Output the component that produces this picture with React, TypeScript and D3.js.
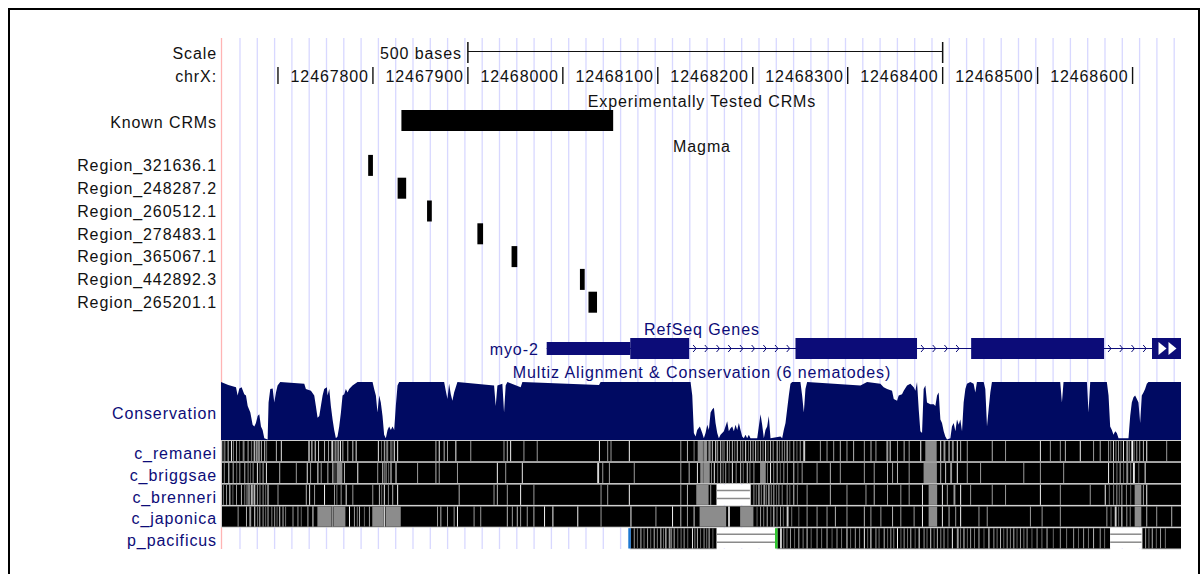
import React from 'react';
import * as d3 from 'd3';

// ---------- data ----------
const viewStart = 12467640;
const viewEnd = 12468651;
const tickPositions = [12467700, 12467800, 12467900, 12468000, 12468100, 12468200, 12468300, 12468400, 12468500, 12468600];
const tickLabels = ['', '12467800', '12467900', '12468000', '12468100', '12468200', '12468300', '12468400', '12468500', '12468600'];
const scaleBar = [12467900, 12468400];
const scaleLabel = '500 bases';

const crmTrackTitle = 'Experimentally Tested CRMs';
const knownCRM = [12467830, 12468053];

const magmaTitle = 'Magma';
const regionNames = ['Region_321636.1', 'Region_248287.2', 'Region_260512.1', 'Region_278483.1', 'Region_365067.1', 'Region_442892.3', 'Region_265201.1'];
const regionStarts = [12467795, 12467826, 12467857, 12467910, 12467946, 12468018, 12468027];
const regionEnds = [12467800, 12467835, 12467862, 12467916, 12467952, 12468023, 12468036];

const geneTrackTitle = 'RefSeq Genes';
const geneName = 'myo-2';
const txStart = 12467983;
const cdsStart = 12468071;
const exonStarts = [12467983, 12468245, 12468430];
const exonEnds = [12468133, 12468373, 12468570];

const consTitle = 'Multiz Alignment & Conservation (6 nematodes)';
// [offset from viewStart (bases), conservation score 0..1]
const conservation: [number, number][] = [
  [0, 0.99], [7.7, 0.94], [15.8, 0.9], [17.5, 0.76], [19.3, 0.88], [21.7, 0.9], [24.5, 0.78], [26.3, 0.76], [28.1, 0.58], [30.9, 0.47],
  [33.3, 0.26], [35.1, 0.23], [36.8, 0.29], [38.6, 0.41], [40.3, 0.44], [42.1, 0.23], [43.8, 0.17], [45.6, 0.03], [49.1, 0.01], [50.1, 0.64],
  [51.9, 0.87], [54.4, 0.88], [56.1, 0.64], [57.9, 0.81], [59.6, 0.93], [62.4, 0.99], [87.7, 0.96], [89.4, 0.87], [94.7, 0.84], [98.2, 0.76],
  [99.9, 0.58], [101.7, 0.38], [103.5, 0.41], [105.2, 0.58], [107, 0.76], [108.7, 0.87], [111.5, 0.9], [112.2, 0.76], [114, 0.87], [115.7, 0.58],
  [117.5, 0.35], [119.2, 0.17], [121, 0.03], [122.7, 0.06], [124.5, 0.23], [126.3, 0.47], [128, 0.76], [129.8, 0.78], [131.5, 0.87], [133.3, 0.81],
  [135, 0.87], [138.5, 0.93], [143.8, 0.99], [159.6, 0.99], [161.3, 0.87], [163.1, 0.76], [164.8, 0.47], [166.6, 0.76], [168.3, 0.64], [170.1, 0.41],
  [171.8, 0.09], [173.6, 0.03], [175.4, 0.17], [177.1, 0.23], [178.9, 0.17], [180.6, 0.23], [182.4, 0.17], [184.1, 0.58], [185.9, 0.93], [187.6, 0.99],
  [235, 0.99], [236.7, 0.84], [238.5, 0.7], [240.2, 0.96], [242, 0.78], [243.7, 0.67], [245.5, 0.81], [249, 0.99], [287.6, 0.93], [289.3, 0.58],
  [291.1, 0.93], [296.3, 0.96], [298.1, 0.47], [299.8, 0.93], [301.6, 0.99], [315.6, 0.9], [317.4, 0.99], [398.1, 0.94], [399.8, 0.99],
  [494.5, 0.99], [496.3, 0.76], [498, 0.12], [499.8, 0.06], [501.5, 0.17], [504.3, 0.23], [506.8, 0.12], [508.5, 0.03], [510.3, 0.12], [512.1, 0.26],
  [513.8, 0.17], [515.6, 0.47], [517.3, 0.52], [519.1, 0.55], [520.8, 0.29], [522.6, 0.12], [524.3, 0.03], [526.1, 0.09], [529.6, 0.15], [531.3, 0.23],
  [533.1, 0.32], [534.8, 0.15], [536.6, 0.2], [538.4, 0.23], [540.1, 0.15], [541.9, 0.26], [543.6, 0.17], [545.4, 0.29], [547.1, 0.17], [548.9, 0.06],
  [550.6, 0.03], [552.4, 0.09], [554.1, 0.03], [555.9, 0.09], [557.6, 0.03], [564.7, 0.03], [566.4, 0.23], [568.2, 0.44], [569.9, 0.26], [571.7, 0.03],
  [573.4, 0.17], [575.2, 0.23], [576.9, 0.41], [578.7, 0.03], [589.2, 0.06], [591, 0.03], [592.7, 0.17], [594.5, 0.29], [596.2, 0.52], [598, 0.76],
  [599.7, 0.96], [601.5, 0.99], [610.2, 0.99], [612, 0.76], [613.8, 0.47], [615.5, 0.87], [617.3, 0.99], [673.4, 0.93], [676.9, 0.96], [680.4, 0.99],
  [694.4, 0.96], [697.9, 0.9], [701.5, 0.87], [706.7, 0.84], [708.5, 0.7], [712, 0.67], [713.7, 0.76], [717.2, 0.78], [719, 0.84], [722.5, 0.93],
  [726, 0.96], [729.5, 0.9], [731.3, 0.84], [733, 0.99], [734.8, 0.52], [736.5, 0.15], [738.3, 0.12], [740, 0.87], [741.8, 0.93], [743.5, 0.64],
  [747, 0.61], [750.6, 0.61], [752.3, 0.58], [754.1, 0.76], [755.8, 0.81], [757.6, 0.35], [759.3, 0.29], [761.1, 0.15], [762.8, 0.06], [764.6, 0.01],
  [768.1, 0.03], [769.8, 0.23], [771.6, 0.29], [773.4, 0.15], [775.1, 0.35], [776.9, 0.26], [778.6, 0.35], [780.4, 0.15], [782.1, 0.64], [783.9, 0.87],
  [785.6, 0.96], [789.1, 0.99], [792.6, 0.96], [794.4, 0.81], [796.1, 0.99], [803.2, 0.99], [804.9, 0.87], [806.7, 0.23], [808.4, 0.52], [810.2, 0.81],
  [811.9, 0.99], [883.8, 0.99], [885.6, 0.64], [887.3, 0.99], [911.9, 0.99], [913.6, 0.47], [915.4, 0.99], [932.9, 0.99], [934.7, 0.76], [936.4, 0.23],
  [938.2, 0.17], [939.9, 0.09], [941.7, 0.15], [943.4, 0.12], [945.2, 0.03], [955.7, 0.03], [957.5, 0.41], [959.2, 0.64], [961, 0.73], [962.7, 0.76],
  [964.5, 0.7], [966.2, 0.64], [968, 0.29], [969.7, 0.76], [971.5, 0.81], [973.2, 0.87], [975, 0.96], [976.7, 0.99], [1011, 0.99],
];

const consLabel = 'Conservation';
const species = ['c_remanei', 'c_briggsae', 'c_brenneri', 'c_japonica', 'p_pacificus'];
// aligned blocks and double-line gaps, as [startOffset, endOffset]
const alignBlocks: [number, number][][] = [
  [[0, 1011]], [[0, 1011]], [[0, 522], [557, 1011]], [[0, 1011]], [[430.5, 522], [585, 936.4], [969.4, 1011]],
];
const alignGaps: [number, number][][] = [[], [], [[522, 557]], [], [[522, 585], [936.4, 969.4]]];
// lighter columns: [offset, width (bases), shade 0=black..1=white]
const remaneiStripes: [number, number, number][] = [
  [3.5, 1, 0.6], [7, 1, 0.8], [10.5, 1, 0.9], [15.8, 1, 0.6], [22.8, 2, 0.5], [28, 1, 0.7], [35, 1, 0.9], [36.8, 1, 0.6], [38.5, 1, 0.9], [42, 1, 0.7],
  [45.5, 1, 0.8], [57.8, 1, 0.7], [63, 1, 0.9], [91.7, 2, 0.6], [95.2, 1, 0.95], [98.7, 1, 0.9], [102.2, 1, 0.8], [108.5, 1, 0.7], [112.7, 1, 0.6],
  [116.2, 2, 0.8], [122.5, 2, 0.55], [125.3, 1, 0.9], [127.8, 1, 0.7], [133, 1, 0.7], [138.3, 1, 0.8], [141.8, 1, 0.9], [165.2, 1, 0.9], [171.5, 1, 0.7],
  [175, 1, 0.6], [178.5, 1, 0.7], [182, 1, 0.9], [185.5, 1, 0.9], [225.8, 1, 0.7], [229.3, 1, 0.95], [234.5, 1, 0.7], [238, 1, 0.6], [246.8, 1, 0.95],
  [262.5, 1, 0.6], [297.5, 1, 0.6], [301, 1, 0.7], [304.5, 1, 0.95], [318.5, 1, 0.6], [332.5, 1, 0.6], [398, 1, 0.95], [406.7, 1, 0.6], [410.2, 1, 0.6],
  [429.5, 1, 0.95], [483.7, 1, 0.6], [490.7, 1, 0.7], [497.7, 1, 0.5], [502, 10, 0.55], [513.5, 1, 0.9], [517, 1, 0.7], [520.5, 1, 0.95], [525.7, 1, 0.8],
  [529.2, 1, 0.6], [532.7, 1, 0.9], [538, 1, 0.7], [543.2, 1, 0.8], [546.7, 1, 0.6], [552, 1, 0.9], [557.2, 1, 0.7], [562.5, 1, 0.8], [567.7, 1, 0.6],
  [573, 1, 0.9], [578.2, 1, 0.7], [585.2, 1, 0.8], [590.5, 1, 0.6], [595.7, 1, 0.9], [602.7, 1, 0.7], [613.2, 2, 0.8], [630.7, 1, 0.6], [637.7, 1, 0.6],
  [644.7, 1, 0.6], [651.7, 1, 0.7], [658.7, 1, 0.6], [665.7, 1, 0.7], [677, 1, 0.6], [684, 1, 0.7], [689.2, 1, 0.6], [700.7, 2, 0.6], [704.2, 1, 0.9],
  [711.9, 1, 0.6], [718.9, 1, 0.7], [724.2, 1, 0.6], [736.4, 1, 0.95], [741.7, 12, 0.55], [757.4, 1, 0.9], [760.9, 2, 0.6], [766.2, 1, 0.9], [769.7, 2, 0.55],
  [774.9, 1, 0.9], [778.4, 1, 0.7], [785.4, 1, 0.6], [811.7, 1, 0.7], [825.7, 1, 0.6], [862.4, 1, 0.9], [872.9, 1, 0.6], [883.4, 1, 0.6], [888.7, 1, 0.7],
  [904.4, 1, 0.95], [918.4, 1, 0.6], [925.4, 1, 0.7], [934.2, 1, 0.6], [939.4, 1, 0.8], [944.7, 1, 0.6], [949.9, 1, 0.9], [953.4, 2, 0.6], [958.7, 2, 0.95],
  [963.9, 1, 0.6], [970.9, 1, 0.7], [974.4, 1, 0.95], [995.4, 1, 0.6],
  // dense low-conservation columns
  [1.5, 1, 0.4], [12.5, 1, 0.5], [19, 1, 0.35], [31.5, 1, 0.45], [33.5, 1, 0.3], [40, 1, 0.5], [47.5, 1, 0.4], [119.5, 1, 0.45], [120.5, 1, 0.7],
  [168.5, 1, 0.4], [173.5, 1, 0.5], [180.5, 1, 0.35], [507.5, 1, 0.35], [510, 1, 0.6], [515.2, 1, 0.45], [522.5, 1, 0.6], [527.5, 1, 0.35], [535, 1, 0.5],
  [540.5, 1, 0.4], [549, 1, 0.5], [555, 1, 0.35], [559.8, 1, 0.6], [565, 1, 0.4], [570.3, 1, 0.5], [575.6, 1, 0.35], [581, 1, 0.6], [587.7, 1, 0.4],
  [593, 1, 0.5], [598.5, 1, 0.45], [606, 1, 0.4], [609.5, 1, 0.6], [936.5, 1, 0.4], [942, 1, 0.5], [947.2, 1, 0.4], [956, 1, 0.5], [961.2, 1, 0.4],
  [967, 1, 0.6],
];
const briggsaeStripes: [number, number, number][] = [
  [7.7, 1, 0.9], [12.3, 1, 0.7], [19.3, 1, 0.6], [24.5, 1, 0.7], [33.3, 1, 0.6], [37.8, 1, 0.9], [43.8, 1, 0.7], [47.3, 1, 0.9], [61.3, 1, 0.7], [78.8, 1, 0.6],
  [90.3, 1, 0.9], [93.8, 1, 0.6], [101.5, 1, 0.95], [105, 1, 0.6], [112, 1, 0.7], [117.3, 1, 0.9], [121.8, 6, 0.55], [129.5, 1, 0.7], [143.5, 1, 0.95],
  [164.5, 1, 0.6], [169.8, 1, 0.8], [173.3, 1, 0.7], [178.5, 1, 0.9], [183.8, 1, 0.95], [206.5, 1, 0.6], [225.8, 1, 0.7], [229.3, 1, 0.6], [248.5, 1, 0.6],
  [290.5, 1, 0.95], [299.3, 1, 0.6], [316.8, 1, 0.9], [396.2, 2, 0.85], [401.5, 1, 0.6], [408.5, 1, 0.6], [434.7, 1, 0.6], [483.7, 1, 0.6], [492.5, 1, 0.7],
  [501.2, 1, 0.9], [504.7, 10, 0.55], [519, 1, 0.9], [525.7, 1, 0.7], [531, 1, 0.6], [538, 1, 0.9], [546.7, 1, 0.7], [553.7, 1, 0.8], [560.7, 1, 0.6],
  [567.7, 6, 0.55], [578.2, 1, 0.9], [585.2, 1, 0.7], [592.2, 1, 0.6], [602.7, 1, 0.8], [611.5, 1, 0.6], [627.2, 1, 0.6], [641.2, 1, 0.7], [651.7, 1, 0.6],
  [677, 1, 0.6], [687.4, 1, 0.6], [701.4, 1, 0.7], [706.7, 1, 0.6], [711.9, 1, 0.7], [724.2, 1, 0.6], [739.9, 14, 0.55], [757.4, 1, 0.7], [762.6, 1, 0.8],
  [767.9, 2, 0.6], [774.9, 1, 0.95], [785.4, 1, 0.6], [799.4, 1, 0.6], [844.9, 1, 0.6], [862.4, 1, 0.6], [886.9, 1, 0.6], [934.2, 1, 0.95], [939.4, 1, 0.6],
  [946.4, 1, 0.7], [953.4, 2, 0.55], [960.4, 2, 0.9], [972.7, 1, 0.95],
  [3, 1, 0.5], [16, 1, 0.4], [28, 1, 0.5], [30.5, 1, 0.35], [40.5, 1, 0.45], [119.5, 1, 0.4], [171.5, 1, 0.45], [176, 1, 0.4], [507.5, 1, 0.4],
  [516, 1, 0.5], [522.5, 1, 0.4], [528.3, 1, 0.45], [534.5, 1, 0.35], [542, 1, 0.5], [549.5, 1, 0.4], [556.5, 1, 0.5], [575, 1, 0.4], [581.5, 1, 0.5],
  [588.5, 1, 0.4], [596, 1, 0.5], [607, 1, 0.4], [943, 1, 0.45], [950, 1, 0.4], [957.5, 1, 0.5], [966, 1, 0.4],
];
const brenneriStripes: [number, number, number][] = [
  [5.3, 1, 0.6], [8.8, 1, 0.9], [15.8, 1, 0.6], [21, 1, 0.7], [28, 1, 0.8], [31.5, 2, 0.7], [35, 1, 0.95], [37.8, 1, 0.6], [43.8, 1, 0.6], [49, 1, 0.95],
  [59.5, 1, 0.6], [89.3, 1, 0.7], [92.8, 1, 0.9], [98, 1, 0.6], [108.5, 1, 0.95], [119, 1, 0.6], [126, 1, 0.6], [131.3, 1, 0.9], [138.3, 1, 0.6],
  [159.3, 1, 0.6], [166.3, 1, 0.7], [171.5, 1, 0.9], [180.3, 1, 0.7], [185.5, 1, 0.95], [250.3, 1, 0.7], [287, 1, 0.6], [290.5, 1, 0.7], [301, 1, 0.6],
  [315, 1, 0.95], [329, 1, 0.6], [399.7, 1, 0.6], [406.7, 1, 0.6], [429.5, 1, 0.95], [483.7, 1, 0.6], [490.7, 1, 0.7], [500.5, 13, 0.55], [515.2, 1, 0.6],
  [560.7, 1, 0.6], [566, 1, 0.9], [571.2, 2, 0.6], [576.5, 1, 0.95], [581.7, 1, 0.7], [587, 1, 0.6], [595.7, 1, 0.6], [602.7, 1, 0.8], [616.7, 1, 0.6],
  [641.2, 1, 0.7], [658.7, 1, 0.6], [678.7, 1, 0.6], [687.4, 1, 0.7], [701.4, 1, 0.6], [715.4, 1, 0.6], [724.2, 1, 0.6], [738.2, 1, 0.9], [745.2, 9, 0.55],
  [759.2, 1, 0.9], [764.4, 1, 0.6], [771.4, 2, 0.6], [778.4, 1, 0.95], [788.9, 1, 0.6], [811.7, 1, 0.6], [825.7, 1, 0.6], [862.4, 1, 0.95], [883.4, 1, 0.6],
  [914.9, 1, 0.6], [930.7, 1, 0.95], [942.9, 1, 0.6], [948.2, 1, 0.7], [962.2, 7, 0.55], [970.9, 1, 0.6], [974.4, 1, 0.95],
  [2, 1, 0.45], [12, 1, 0.4], [24.5, 1, 0.5], [26.5, 1, 0.35], [29.7, 1, 0.6], [33.5, 1, 0.45], [40.5, 1, 0.5], [46.5, 1, 0.4], [121.5, 1, 0.45],
  [168.7, 1, 0.4], [175.8, 1, 0.5], [563.2, 1, 0.4], [568.5, 1, 0.5], [574, 1, 0.4], [579, 1, 0.5], [584.5, 1, 0.35], [590.5, 1, 0.5], [598.5, 1, 0.4],
  [606.5, 1, 0.45], [935, 1, 0.4], [939.5, 1, 0.5], [945.5, 1, 0.4], [953, 1, 0.5], [957.5, 1, 0.4],
];
const japonicaStripes: [number, number, number][] = [
  [17.5, 1, 0.6], [26.3, 1, 0.7], [29.8, 2, 0.6], [35, 1, 0.9], [40.3, 1, 0.7], [43.8, 1, 0.6], [49, 1, 0.7], [56, 1, 0.6], [61.3, 1, 0.8], [64.8, 1, 0.7],
  [75.3, 1, 0.6], [80.5, 1, 0.6], [91, 1, 0.7], [96.3, 1, 0.9], [101.5, 15, 0.55], [117.3, 1, 0.9], [119, 12, 0.55], [134.8, 1, 0.95], [140, 1, 0.6],
  [145.3, 1, 0.7], [155.8, 1, 0.6], [159.3, 12, 0.55], [171.5, 1, 0.95], [173.3, 16, 0.55], [227.5, 1, 0.6], [231, 1, 0.7], [238, 1, 0.6], [245, 1, 0.6],
  [248.5, 1, 0.95], [266, 1, 0.6], [273, 1, 0.6], [301, 1, 0.7], [306.3, 1, 0.6], [311.5, 1, 0.7], [315, 1, 0.6], [322, 1, 0.6], [329, 1, 0.7],
  [340.2, 1, 0.95], [349, 1, 0.95], [375.2, 1, 0.95], [399.7, 1, 0.6], [431.2, 1, 0.95], [457.5, 1, 0.6], [475, 1, 0.95], [483.7, 1, 0.7], [490.7, 1, 0.6],
  [497.7, 1, 0.8], [504, 28, 0.55], [534, 2, 0.8], [546.7, 14, 0.55], [567.7, 1, 0.6], [574.7, 1, 0.7], [581.7, 1, 0.9], [588.7, 1, 0.6], [595.7, 2, 0.8],
  [616.7, 1, 0.6], [627.2, 1, 0.6], [637.7, 1, 0.6], [646.5, 1, 0.7], [658.7, 1, 0.6], [677, 1, 0.7], [683.9, 1, 0.6], [694.4, 1, 0.6], [706.7, 1, 0.7],
  [715.4, 1, 0.6], [729.4, 1, 0.6], [738.2, 1, 0.95], [745.2, 9, 0.55], [759.2, 1, 0.9], [766.2, 1, 0.7], [773.2, 1, 0.6], [778.4, 1, 0.95], [797.7, 1, 0.6],
  [806.4, 1, 0.6], [851.9, 1, 0.6], [864.2, 1, 0.6], [883.4, 1, 0.6], [932.4, 1, 0.6], [941.2, 2, 0.8], [948.2, 1, 0.95], [953.4, 1, 0.6], [962.2, 7, 0.55],
  [974.4, 1, 0.7], [984.9, 1, 0.6], [1000.7, 1, 0.7],
  [38, 1, 0.45], [46.5, 1, 0.4], [53, 1, 0.5], [58.5, 1, 0.4], [67.5, 1, 0.45], [84, 1, 0.4], [143, 1, 0.45], [150.5, 1, 0.4], [564, 1, 0.4], [571, 1, 0.5],
  [578.5, 1, 0.4], [585, 1, 0.5], [591.7, 1, 0.4], [600.5, 1, 0.45], [608, 1, 0.4], [936.8, 1, 0.45], [944.8, 1, 0.4], [957, 1, 0.5],
];
const pacificusStripes: [number, number, number][] = [
  [434.7, 1, 0.6], [441.7, 1, 0.7], [448.7, 1, 0.6], [455.7, 1, 0.7], [462.7, 1, 0.8], [468, 1, 0.95], [471.5, 2, 0.6], [476.7, 1, 0.7], [487.2, 1, 0.6],
  [496, 1, 0.9], [501.2, 1, 0.7], [508.2, 1, 0.6], [513.5, 1, 0.8], [588.7, 2, 0.8], [592.2, 1, 0.6], [599.2, 1, 0.6], [608, 1, 0.7], [616.7, 1, 0.8],
  [627.2, 1, 0.6], [637.7, 1, 0.7], [648.2, 1, 0.6], [658.7, 1, 0.9], [667.5, 1, 0.6], [677, 1, 0.95], [683.9, 1, 0.95], [689.2, 1, 0.6], [697.9, 1, 0.7],
  [704.9, 1, 0.6], [711.9, 1, 0.95], [718.9, 1, 0.6], [725.9, 1, 0.7], [734.7, 1, 0.95], [739.9, 1, 0.6], [746.9, 1, 0.8], [753.9, 1, 0.7], [760.9, 1, 0.6],
  [769.7, 1, 0.95], [774.9, 2, 0.6], [781.9, 1, 0.8], [788.9, 1, 0.6], [797.7, 1, 0.7], [808.2, 1, 0.95], [813.4, 1, 0.6], [820.4, 1, 0.7], [827.4, 1, 0.6],
  [834.4, 1, 0.7], [841.4, 1, 0.6], [848.4, 1, 0.6], [858.9, 1, 0.6], [869.4, 1, 0.7], [883.4, 1, 0.6], [897.4, 1, 0.6], [907.9, 1, 0.6], [918.4, 1, 0.7],
  [925.4, 1, 0.6], [973.2, 1, 0.6], [980.2, 1, 0.7], [988.9, 1, 0.6],
  [438, 1, 0.4], [445, 1, 0.45], [452, 1, 0.4], [459, 1, 0.5], [465.5, 1, 0.4], [474, 1, 0.5], [480.5, 1, 0.4], [484, 1, 0.45], [491, 1, 0.4], [498.5, 1, 0.5],
  [504.5, 1, 0.4], [511, 1, 0.45], [517.5, 1, 0.4], [595.5, 1, 0.45], [603.5, 1, 0.4], [612.5, 1, 0.5], [621, 1, 0.4], [632, 1, 0.45], [643, 1, 0.4],
  [653, 1, 0.45], [662.5, 1, 0.4], [672, 1, 0.5], [680.5, 1, 0.4], [692.5, 1, 0.45], [701.5, 1, 0.4], [708, 1, 0.5], [715.5, 1, 0.4], [722.5, 1, 0.45],
  [730.5, 1, 0.4], [743, 1, 0.45], [750.5, 1, 0.4], [757.5, 1, 0.5], [765, 1, 0.4], [778.3, 1, 0.45], [785.5, 1, 0.4], [793, 1, 0.45], [803, 1, 0.4],
  [816.8, 1, 0.45], [823.8, 1, 0.4], [830.8, 1, 0.5], [837.8, 1, 0.4], [845, 1, 0.45], [853.5, 1, 0.4], [864, 1, 0.45], [876, 1, 0.4], [890, 1, 0.45],
  [902.5, 1, 0.4], [913, 1, 0.45], [930, 1, 0.4], [976.7, 1, 0.45], [984.5, 1, 0.4], [994, 1, 0.45],
];
const speciesStripes = [remaneiStripes, briggsaeStripes, brenneriStripes, japonicaStripes, pacificusStripes];

// ---------- layout & style ----------
const W = 1202;
const H = 574;
const dataLeft = 221;
const dataRight = 1181;
const labelX = 217;
const FONT = '"Liberation Sans", Arial, Helvetica, sans-serif';
const NAVY = '#0c0c78';
const CONS = '#000a62';
const GUIDE = '#d8d8ff';

const x = d3.scaleLinear().domain([viewStart, viewEnd]).range([dataLeft, dataRight]);
const consY = d3.scaleLinear().domain([0, 1]).range([440, 381.5]);
const shade = (s: number) => d3.rgb(255 * s, 255 * s, 255 * s).formatHex();
const rowTop = (i: number) => 441 + i * 21.8;
const rowH = 20.3;
const regionCenter = (i: number) => 165.4 + i * 22.8;

const textStyle = { fontFamily: FONT, fontSize: 16, letterSpacing: 0.9 } as const;

export default function App() {
  const area = d3
    .area<[number, number]>()
    .x((d) => x(viewStart + d[0]))
    .y0(consY(0))
    .y1((d) => consY(d[1]));

  const guides = d3.range(240, dataRight - 5, 17.3);
  const geneY = 348.5;
  const introns: [number, number][] = [];
  for (let i = 0; i < exonStarts.length - 1; i++) introns.push([exonEnds[i], exonStarts[i + 1]]);
  introns.push([exonEnds[exonEnds.length - 1], viewEnd]);
  const boxLeft = dataRight - 29;

  return (
    <svg width={W} height={H} style={{ position: 'absolute', left: 0, top: 0, background: '#fff' }}>
      <rect x={0} y={0} width={W} height={H} fill="#fff" />
      {/* guides */}
      {guides.map((g, i) => (
        <line key={'g' + i} x1={g} x2={g} y1={38} y2={549} stroke={GUIDE} strokeWidth={1.3} />
      ))}
      <line x1={dataLeft + 0.5} x2={dataLeft + 0.5} y1={38} y2={549} stroke="#ffb4b4" strokeWidth={1.3} />

      {/* scale */}
      <text x={labelX} y={59} textAnchor="end" style={textStyle} fill="#111">Scale</text>
      <text x={x(scaleBar[0]) - 6} y={59} textAnchor="end" style={textStyle} fill="#111">{scaleLabel}</text>
      <line x1={x(scaleBar[0])} x2={x(scaleBar[1])} y1={51.5} y2={51.5} stroke="#111" strokeWidth={1.2} />
      <line x1={x(scaleBar[0])} x2={x(scaleBar[0])} y1={42} y2={63} stroke="#111" strokeWidth={1.5} />
      <line x1={x(scaleBar[1])} x2={x(scaleBar[1])} y1={42} y2={63} stroke="#111" strokeWidth={1.5} />

      <text x={labelX} y={82} textAnchor="end" style={textStyle} fill="#111">chrX:</text>
      {tickPositions.map((t, i) => (
        <g key={'t' + i}>
          <line x1={x(t)} x2={x(t)} y1={67} y2={84} stroke="#111" strokeWidth={1.4} />
          {tickLabels[i] && (
            <text x={x(t) - 4} y={82} textAnchor="end" style={textStyle} fill="#111">{tickLabels[i]}</text>
          )}
        </g>
      ))}

      {/* CRMs */}
      <text x={702} y={106.5} textAnchor="middle" style={textStyle} fill="#111">{crmTrackTitle}</text>
      <text x={labelX} y={128} textAnchor="end" style={textStyle} fill="#111">Known CRMs</text>
      <rect x={x(knownCRM[0])} y={110} width={x(knownCRM[1]) - x(knownCRM[0])} height={21} fill="#000" />

      {/* Magma */}
      <text x={702} y={151.5} textAnchor="middle" style={textStyle} fill="#111">{magmaTitle}</text>
      {regionNames.map((n, i) => (
        <g key={'r' + i}>
          <text x={labelX} y={regionCenter(i) + 5.8} textAnchor="end" style={textStyle} fill="#111">{n}</text>
          <rect x={x(regionStarts[i])} y={regionCenter(i) - 10.5} width={x(regionEnds[i]) - x(regionStarts[i])} height={21} fill="#000" />
        </g>
      ))}

      {/* RefSeq genes */}
      <text x={702} y={334.5} textAnchor="middle" style={textStyle} fill={NAVY}>{geneTrackTitle}</text>
      <text x={x(txStart) - 8} y={354.5} textAnchor="end" style={textStyle} fill={NAVY}>{geneName}</text>
      <line x1={x(txStart)} x2={boxLeft} y1={geneY} y2={geneY} stroke={NAVY} strokeWidth={1} />
      {introns.map(([s, e], i) =>
        d3.range(x(s) + 7, Math.min(x(e), boxLeft + 2) - 1, 11.7).map((cx, j) => (
          <path
            key={'c' + i + '-' + j}
            d={`M${cx - 3},${geneY - 3.5}L${cx},${geneY}L${cx - 3},${geneY + 3.5}`}
            fill="none"
            stroke={NAVY}
            strokeWidth={1}
          />
        ))
      )}
      {exonStarts.map((s, i) => {
        const e = exonEnds[i];
        const parts: JSX.Element[] = [];
        if (s < cdsStart) {
          const ue = Math.min(e, cdsStart);
          parts.push(<rect key={'u' + i} x={x(s)} y={geneY - 6.5} width={x(ue) - x(s)} height={13} fill={NAVY} />);
        }
        if (e > cdsStart) {
          const cs = Math.max(s, cdsStart);
          parts.push(<rect key={'k' + i} x={x(cs)} y={geneY - 10.5} width={x(e) - x(cs)} height={21} fill={NAVY} />);
        }
        return <g key={'e' + i}>{parts}</g>;
      })}
      <rect x={boxLeft} y={geneY - 10.5} width={dataRight - boxLeft} height={21} fill={NAVY} />
      <path d={`M${boxLeft + 6.5},${geneY - 6.5}L${boxLeft + 14.5},${geneY}L${boxLeft + 6.5},${geneY + 6.5}Z`} fill="#fff" />
      <path d={`M${boxLeft + 16.5},${geneY - 6.5}L${boxLeft + 24.5},${geneY}L${boxLeft + 16.5},${geneY + 6.5}Z`} fill="#fff" />

      {/* Conservation */}
      <text x={702} y={378} textAnchor="middle" style={textStyle} fill={NAVY}>{consTitle}</text>
      <text x={labelX} y={419} textAnchor="end" style={textStyle} fill={NAVY}>{consLabel}</text>
      <path d={area(conservation) || ''} fill={CONS} />

      {/* species alignment rows */}
      {species.map((sp, i) => {
        const top = rowTop(i);
        return (
          <g key={'s' + i}>
            <text x={labelX} y={top + 18} textAnchor="end" style={textStyle} fill={NAVY}>{sp}</text>
            {alignBlocks[i].map(([s, e], j) => (
              <g key={'b' + j}>
                <rect x={x(viewStart + s)} y={top - 1} width={x(viewStart + e) - x(viewStart + s)} height={rowH + 2} fill="#cfcfcf" />
                <rect x={x(viewStart + s) + 1} y={top} width={x(viewStart + e) - x(viewStart + s) - 1} height={rowH} fill="#000" />
              </g>
            ))}
            {speciesStripes[i].map(([o, w, sh], j) => (
              <rect
                key={'st' + j}
                x={x(viewStart + o)}
                y={top}
                width={Math.max(1, x(viewStart + o + w) - x(viewStart + o))}
                height={rowH}
                fill={shade(sh)}
              />
            ))}
            {alignGaps[i].map(([s, e], j) => (
              <g key={'gap' + j}>
                <rect x={x(viewStart + s)} y={top} width={x(viewStart + e) - x(viewStart + s)} height={rowH} fill="#fff" />
                <line x1={x(viewStart + s)} x2={x(viewStart + e)} y1={top + 6} y2={top + 6} stroke="#8a8a8a" strokeWidth={1.5} />
                <line x1={x(viewStart + s)} x2={x(viewStart + e)} y1={top + 14} y2={top + 14} stroke="#8a8a8a" strokeWidth={1.5} />
              </g>
            ))}
          </g>
        );
      })}
      {/* p_pacificus block edge markers */}
      <rect x={x(viewStart + alignBlocks[4][0][0]) - 1.5} y={rowTop(4)} width={2.5} height={rowH} fill="#1e78d2" />
      <rect x={x(viewStart + alignBlocks[4][1][0]) - 1.5} y={rowTop(4)} width={2.5} height={rowH} fill="#2ec82e" />

      {/* outer frame */}
      <rect x={9} y={9} width={1190} height={H + 10} fill="none" stroke="#000" strokeWidth={2} />
    </svg>
  );
}
